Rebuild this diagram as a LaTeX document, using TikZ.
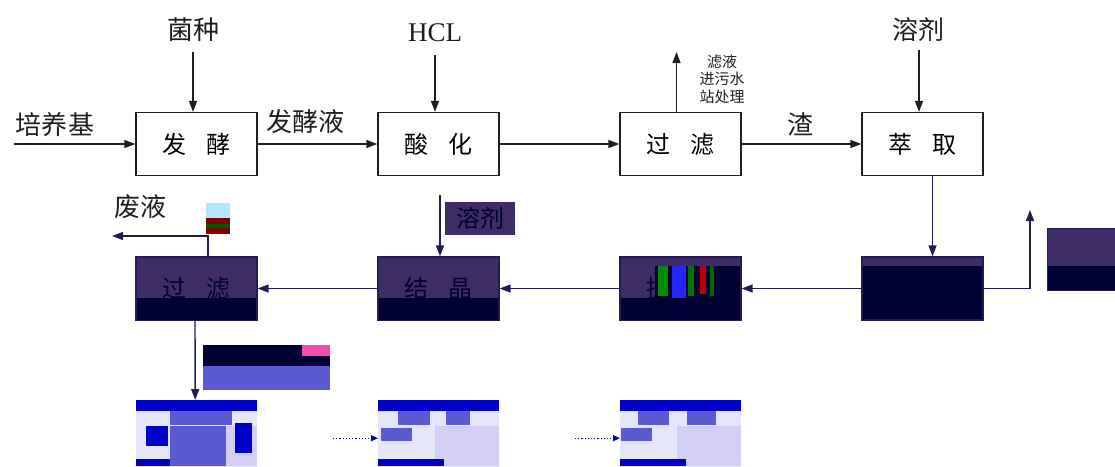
\documentclass[tikz,border=0pt]{standalone}
\usepackage{fontspec}
\newfontfamily\cjk{Noto Sans CJK SC}
\newfontfamily\tms{Liberation Serif}
\usetikzlibrary{arrows.meta,calc}
\definecolor{pur}{HTML}{3E2D68}
\definecolor{nav}{HTML}{000033}
\definecolor{lnk}{HTML}{241B55}
\definecolor{blu}{HTML}{0000C8}
\definecolor{mblu}{HTML}{5A5AD2}
\definecolor{lav}{HTML}{E6E6FA}
\definecolor{lav2}{HTML}{D2CEF6}
\definecolor{ink}{HTML}{1E1E1E}
\begin{document}
\begin{tikzpicture}[x=1pt,y=-1pt,
  box/.style={draw=ink,line width=1.3pt,minimum width=121pt,minimum height=63pt,inner sep=0pt,font=\cjk\fontsize{24}{26}\selectfont},
  dbox/.style={box,draw=lnk,fill=pur,text=nav},
  lbox/.style={draw=none,fill=lav,minimum width=121pt,minimum height=70pt,inner sep=0pt},
  lbl/.style={font=\cjk\fontsize{26}{28}\selectfont,inner sep=1pt,text=ink},
  small/.style={font=\cjk\fontsize{15}{17.5}\selectfont,inner sep=0pt,align=center,text=ink},
  arr/.style={draw=ink,line width=1.3pt,-{Triangle[length=11pt,width=8pt]}},
  darr/.style={draw=lnk,line width=1.4pt,-{Triangle[length=11pt,width=8pt]}},
  dotarr/.style={draw=blu,line width=1.2pt,dotted,-{Triangle[length=7pt,width=6pt]}}]
\useasboundingbox (0,0) rectangle (1115,466);
\clip (0,0) rectangle (1115,466);

% ---------- top row ----------
\node[box] (fj) at (196.5,144) {发\hspace{20pt}酵};
\node[box] (sh) at (438.5,144) {酸\hspace{20pt}化};
\node[box] (gl) at (680.5,144) {过\hspace{20pt}滤};
\node[box] (cq) at (922.5,144) {萃\hspace{20pt}取};

\node[lbl] (jz) at (193,30) {菌种};
\node[font=\tms\fontsize{27}{29}\selectfont,inner sep=1pt,text=ink] (hcl) at (435,33) {HCL};
\node[lbl] (rj1) at (918,30) {溶剂};
\node[lbl] (pyj) at (55,125) {培养基};
\node[lbl] (fjy) at (305,122) {发酵液};
\node[lbl] (zha) at (800,124) {渣};
\node[small] (lv) at (722,79) {滤液\\进污水\\站处理};

\coordinate (pin) at (14,144);
\coordinate (lvtop) at (677,52);

\draw[arr] (pin) -- (fj.west);
\draw[arr] (193,52) coordinate (jzs) -- (jzs |- fj.north);
\draw[arr] (435,55) coordinate (hcls) -- (hcls |- sh.north);
\draw[arr] (919,50) coordinate (rjs) -- (rjs |- cq.north);
\draw[arr] (fj.east) -- (sh.west);
\draw[arr] (sh.east) -- (gl.west);
\draw[arr] (gl.east) -- (cq.west);
\draw[arr] ([xshift=-4pt]gl.north) -- ([xshift=-4pt]gl.north |- lvtop);

% ---------- second row ----------
\node[dbox] (f2) at (196.5,288.5) {过\hspace{20pt}滤};
\node[dbox] (jj) at (438.5,288.5) {结\hspace{20pt}晶};
\node[dbox] (tc) at (680.5,288.5) {提\hspace{20pt}\phantom{纯}};
\node[box,draw=lnk,fill=nav] (b4) at (922.5,288.5) {};

% navy lower parts
\fill[nav] (137,298) rectangle (256,320);
\fill[nav] (379,298) rectangle (498,320);
\fill[nav] (621,298) rectangle (740,320);
\fill[nav] (655,266) rectangle (740,298);
\fill[green!55!black] (658,266) rectangle (668,296);
\fill[blue!85] (672,266) rectangle (686,298);
\fill[green!45!black] (688,266) rectangle (694,296);
\fill[red!75!black] (700,266) rectangle (706,294);
\fill[green!40!black] (710,266) rectangle (714,296);
\fill[pur] (863,258) rectangle (982,266);

% right-hand box
\node[draw=lnk,fill=nav,minimum width=70pt,minimum height=62pt,inner sep=0pt,anchor=north west] (rb) at (1047,228) {};
\fill[pur] (1047.6,228.6) rectangle (1115,266);

\coordinate (out4) at (1030,210);
\draw[darr] ([xshift=10pt]cq.south) -- ([xshift=10pt]b4.north);
\draw[darr] (b4.west) -- (tc.east);
\draw[darr] (tc.west) -- (jj.east);
\draw[darr] (jj.west) -- (f2.east);
\draw[darr] (b4.east) -| (out4);

% solvent into crystallisation
\node[font=\cjk\fontsize{24}{26}\selectfont,fill=pur,text=nav,minimum width=70pt,minimum height=33pt,inner sep=0pt] (rj2) at (480,218) {溶剂};
\coordinate (rjin) at (440,195);
\draw[darr] (rjin) -- (rjin |- jj.north);

% waste liquid
\node[lbl] (fy) at (140,207) {废液};
\coordinate (wout) at (112,236);
\draw[darr] ([xshift=11.5pt]f2.north) |- (wout);
\fill[cyan!30] (206,203) rectangle (230,218);
\fill[red!50!black] (206,218) rectangle (230,234);
\fill[green!35!black] (206,224) rectangle (230,228);

% ---------- third row ----------
\node[lbox,anchor=north west] (r1) at (136,400) {};
\node[lbox,anchor=north west] (r2) at (378,400) {};
\node[lbox,anchor=north west] (r3) at (620,400) {};

\foreach \x in {136,378,620}{
  \fill[blu] (\x,400) rectangle ++(121,11);
  \fill[lav2] (\x+57,426) rectangle (\x+121,466);
  \fill[blu] (\x,459) rectangle ++(66,7);
}
\fill[mblu] (170,411) rectangle (232,425);
\fill[blu] (146,426) rectangle (168,446);
\fill[mblu] (170,426) rectangle (226,466);
\fill[blu] (235,423) rectangle (252,453);
\fill[mblu] (398,411) rectangle (430,425);
\fill[mblu] (446,411) rectangle (470,425);
\fill[mblu] (381,428) rectangle (412,441);
\fill[mblu] (638,411) rectangle (669,425);
\fill[mblu] (687,411) rectangle (716,425);
\fill[mblu] (621,428) rectangle (652,441);

% label beside the down arrow
\fill[nav] (203,345) rectangle (330,366);
\fill[mblu] (203,366) rectangle (330,390);
\fill[magenta!70] (302,345) rectangle (330,356);

\draw[darr] ([xshift=-1.5pt]f2.south) -- ([xshift=-1.5pt]r1.north);
\draw[dotarr] ([xshift=-45pt,yshift=-3pt]r2.west) -- ([yshift=-3pt]r2.west);
\draw[dotarr] ([xshift=-45pt,yshift=-3pt]r3.west) -- ([yshift=-3pt]r3.west);
\end{tikzpicture}
\end{document}
